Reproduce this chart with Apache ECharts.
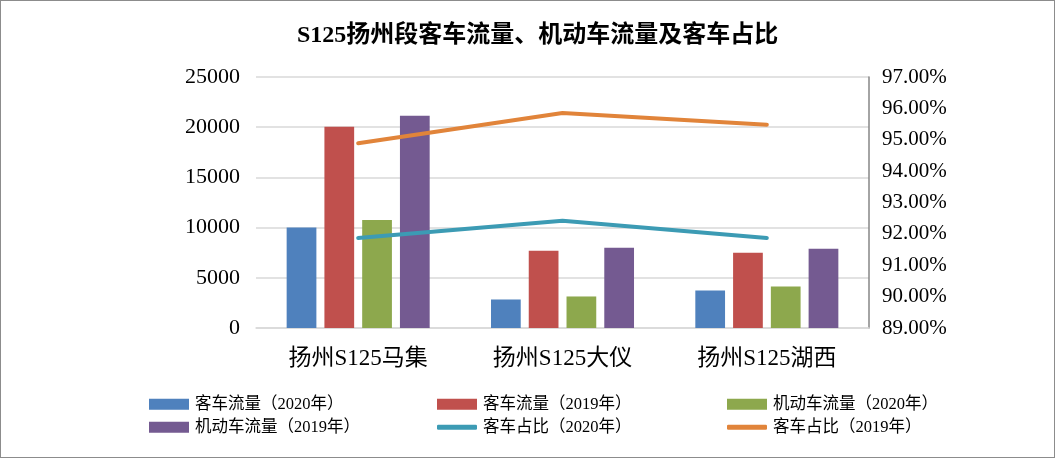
<!DOCTYPE html>
<html><head><meta charset="utf-8">
<script src="https://cdn.jsdelivr.net/npm/echarts@6/dist/echarts.min.js"></script>
<style>html,body{margin:0;padding:0;background:#fff}#c{width:1055px;height:458px;box-sizing:border-box;border:1px solid #8c8c8c}</style>
</head><body><div id="c"></div>
<script>
var categories = ['扬州S125马集', '扬州S125大仪', '扬州S125湖西'];
var names = ['客车流量（2020年）', '客车流量（2019年）', '机动车流量（2020年）', '机动车流量（2019年）', '客车占比（2020年）', '客车占比（2019年）'];
var bus2020 = [10000, 2840, 3730];
var bus2019 = [20050, 7690, 7500];
var motor2020 = [10760, 3140, 4130];
var motor2019 = [21150, 7990, 7890];
var share2020 = [91.87, 92.42, 91.87];
var share2019 = [94.89, 95.85, 95.48];
var leftTicks = {min: 0, max: 25000, interval: 5000};
var rightTicks = {min: 89, max: 97, interval: 1};
var colors = ['#4F81BD', '#C0504D', '#8DA84D', '#745A91', '#3C9BB4', '#E1843A'];

var FF = "'Liberation Serif', 'Noto Sans CJK SC', serif";
var chart = echarts.init(document.getElementById('c'));
var legendPos = [[148, 395], [436, 395], [726, 395], [148, 418], [436, 418], [726, 418]];
var legends = names.map(function (n, i) {
  var isLine = i >= 4;
  return {
    data: [n], left: legendPos[i][0], top: legendPos[i][1], padding: 0,
    itemWidth: 40, itemHeight: isLine ? 5 : 11, itemGap: 6,
    icon: isLine ? 'roundRect' : 'rect',
    textStyle: {fontFamily: FF, fontSize: 16.5, color: '#000', padding: [0, 0, 0, 1]}
  };
});
function bar(i, d) {
  return {name: names[i], type: 'bar', data: d, yAxisIndex: 0, itemStyle: {color: colors[i]},
    barGap: '27%', barCategoryGap: '30%'};
}
function line(i, d) {
  return {name: names[i], type: 'line', data: d, yAxisIndex: 1, showSymbol: false, symbol: 'none',
    lineStyle: {color: colors[i], width: 4, cap: 'round'}, itemStyle: {color: colors[i]}};
}
chart.setOption({
  animation: false,
  color: colors,
  title: {text: 'S125扬州段客车流量、机动车流量及客车占比', left: 296, top: 23, padding: 0,
    textStyle: {fontFamily: FF, fontSize: 24, fontWeight: 'bold', color: '#000'}},
  legend: legends,
  grid: {left: 255, right: 185, top: 76, bottom: 129},
  xAxis: {type: 'category', data: categories,
    axisLine: {lineStyle: {color: '#D9D9D9', width: 1.5}}, axisTick: {show: false},
    axisLabel: {fontFamily: FF, fontSize: 23, color: '#000', margin: 19}},
  yAxis: [
    {type: 'value', min: leftTicks.min, max: leftTicks.max, interval: leftTicks.interval,
      axisLine: {show: false}, axisTick: {show: false},
      splitLine: {lineStyle: {color: '#D9D9D9', width: 1.5}},
      axisLabel: {fontFamily: FF, fontSize: 22, color: '#000', margin: 16,
        formatter: function (v) { return String(v); }}},
    {type: 'value', min: rightTicks.min, max: rightTicks.max, interval: rightTicks.interval, position: 'right',
      axisLine: {show: true, lineStyle: {color: '#868686', width: 1.5}}, axisTick: {show: false},
      splitLine: {show: false},
      axisLabel: {fontFamily: FF, fontSize: 21, color: '#000', margin: 13,
        formatter: function (v) { return v.toFixed(2) + '%'; }}}
  ],
  series: [bar(0, bus2020), bar(1, bus2019), bar(2, motor2020), bar(3, motor2019), line(4, share2020), line(5, share2019)]
});
</script></body></html>
